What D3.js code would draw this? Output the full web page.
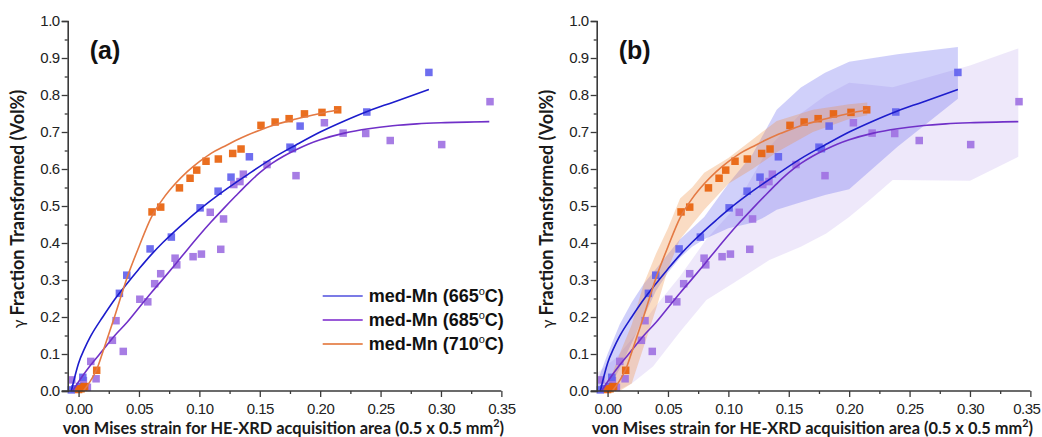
<!DOCTYPE html>
<html>
<head>
<meta charset="utf-8">
<script src="https://cdn.jsdelivr.net/npm/d3@7"></script>
<style>
  html, body { margin: 0; padding: 0; background: #fff; }
  svg { display: block; }
</style>
</head>
<body>
<svg id="chart" width="1042" height="437"></svg>
<script>
// ---- measured points: von Mises strain vs. transformed austenite fraction ----
const strain665 = [-0.006, -0.003, 0.001, 0.0035, 0.0338, 0.0399, 0.0592, 0.0768, 0.1006, 0.1155, 0.1262, 0.1414, 0.175, 0.177, 0.1834, 0.2386, 0.290];
const frac665   = [0.003, 0.006, 0.012, 0.037, 0.264, 0.313, 0.384, 0.416, 0.495, 0.540, 0.578, 0.633, 0.659, 0.655, 0.716, 0.754, 0.861];

const strain685 = [-0.0056, 0.004, 0.0073, 0.0101, 0.0145, 0.028, 0.031, 0.037, 0.0507, 0.0573, 0.063, 0.068, 0.0799, 0.0813, 0.0948, 0.1017, 0.109, 0.1177, 0.12, 0.1285, 0.1336, 0.1364, 0.156, 0.180, 0.2035, 0.219, 0.2377, 0.258, 0.3006, 0.3406];
const frac685   = [0.030, 0.028, 0.010, 0.080, 0.033, 0.137, 0.190, 0.107, 0.248, 0.241, 0.290, 0.317, 0.359, 0.341, 0.363, 0.370, 0.483, 0.383, 0.465, 0.558, 0.566, 0.586, 0.612, 0.582, 0.725, 0.697, 0.696, 0.677, 0.666, 0.782];

const strain710 = [0.000, 0.002, 0.004, 0.005, 0.015, 0.0608, 0.068, 0.0835, 0.0923, 0.0978, 0.1055, 0.1157, 0.1276, 0.1345, 0.151, 0.1627, 0.1743, 0.187, 0.2015, 0.2145];
const frac710   = [0.004, 0.006, 0.010, 0.012, 0.056, 0.484, 0.497, 0.549, 0.575, 0.597, 0.621, 0.627, 0.642, 0.654, 0.718, 0.727, 0.736, 0.749, 0.753, 0.760];

// ---- fitted kinetics curves ----
const fitX665 = [-0.006, -0.003, 0, 0.005, 0.01, 0.02, 0.03, 0.04, 0.05, 0.06, 0.07, 0.08, 0.09, 0.10, 0.12, 0.14, 0.16, 0.18, 0.20, 0.22, 0.24, 0.26, 0.29];
const fitY665 = [0, 0.04, 0.075, 0.115, 0.148, 0.20, 0.248, 0.29, 0.33, 0.368, 0.402, 0.433, 0.462, 0.49, 0.54, 0.585, 0.628, 0.665, 0.70, 0.73, 0.757, 0.78, 0.815];

const fitX685 = [-0.005, 0, 0.01, 0.02, 0.03, 0.04, 0.05, 0.06, 0.07, 0.08, 0.09, 0.10, 0.11, 0.12, 0.13, 0.14, 0.15, 0.16, 0.17, 0.18, 0.19, 0.20, 0.22, 0.24, 0.26, 0.28, 0.30, 0.34];
const fitY685 = [0, 0.025, 0.07, 0.11, 0.15, 0.185, 0.225, 0.265, 0.303, 0.342, 0.382, 0.421, 0.458, 0.493, 0.527, 0.56, 0.59, 0.615, 0.635, 0.652, 0.667, 0.679, 0.697, 0.709, 0.717, 0.722, 0.725, 0.728];

const fitX710 = [0.004, 0.01, 0.015, 0.02, 0.03, 0.04, 0.05, 0.06, 0.07, 0.08, 0.09, 0.10, 0.11, 0.12, 0.13, 0.14, 0.15, 0.16, 0.18, 0.20, 0.215];
const fitY710 = [0, 0.028, 0.058, 0.105, 0.203, 0.305, 0.39, 0.468, 0.52, 0.56, 0.593, 0.62, 0.643, 0.66, 0.677, 0.692, 0.705, 0.717, 0.735, 0.750, 0.760];

// ---- uncertainty envelopes (panel b) ----
const bandX665  = [-0.008, 0.0, 0.01, 0.02, 0.03, 0.04, 0.05, 0.06, 0.07, 0.08, 0.10, 0.12, 0.13, 0.14, 0.16, 0.18, 0.20, 0.24, 0.29];
const bandLo665 = [0.0, 0.0, 0.06, 0.13, 0.20, 0.27, 0.32, 0.36, 0.39, 0.41, 0.44, 0.455, 0.47, 0.49, 0.51, 0.53, 0.545, 0.66, 0.79];
const bandHi665 = [0.03, 0.10, 0.18, 0.24, 0.29, 0.33, 0.37, 0.41, 0.44, 0.47, 0.56, 0.64, 0.70, 0.76, 0.82, 0.86, 0.89, 0.91, 0.93];

const bandX685  = [-0.008, 0.007, 0.02, 0.0376, 0.06, 0.0818, 0.104, 0.134, 0.16, 0.181, 0.20, 0.217, 0.236, 0.30, 0.34];
const bandLo685 = [0.0, 0.0, 0.02, 0.066, 0.16, 0.246, 0.291, 0.354, 0.39, 0.426, 0.47, 0.516, 0.57, 0.568, 0.633];
const bandHi685 = [0.05, 0.09, 0.14, 0.22, 0.31, 0.41, 0.49, 0.66, 0.75, 0.80, 0.833, 0.828, 0.821, 0.88, 0.926];

const bandX710  = [0.002, 0.01, 0.02, 0.03, 0.04, 0.05, 0.06, 0.07, 0.08, 0.10, 0.12, 0.14, 0.17, 0.20, 0.215];
const bandLo710 = [0.0, 0.0, 0.02, 0.12, 0.22, 0.33, 0.41, 0.45, 0.49, 0.56, 0.60, 0.645, 0.70, 0.735, 0.745];
const bandHi710 = [0.03, 0.10, 0.18, 0.29, 0.37, 0.44, 0.52, 0.55, 0.59, 0.63, 0.68, 0.73, 0.76, 0.775, 0.78];

// ---- axis ticks and labels ----
const xTicks = [0, 0.05, 0.10, 0.15, 0.20, 0.25, 0.30, 0.35];
const xMinor = [0.025, 0.075, 0.125, 0.175, 0.225, 0.275, 0.325];
const yTicks = [0, 0.1, 0.2, 0.3, 0.4, 0.5, 0.6, 0.7, 0.8, 0.9, 1.0];
const yMinor = [0.05, 0.15, 0.25, 0.35, 0.45, 0.55, 0.65, 0.75, 0.85, 0.95];
const seriesNames = ["med-Mn (665", "med-Mn (685", "med-Mn (710"];
const panelLabels = ["(a)", "(b)"];

const series = [
  { name: seriesNames[0], xs: strain665, ys: frac665, fx: fitX665, fy: fitY665, bx: bandX665, blo: bandLo665, bhi: bandHi665,
    point: "#6262ee", line: "#1c1ccc", legend: "#7b7be6", band: "rgba(100,100,240,0.30)" },
  { name: seriesNames[1], xs: strain685, ys: frac685, fx: fitX685, fy: fitY685, bx: bandX685, blo: bandLo685, bhi: bandHi685,
    point: "#a072e2", line: "#7030c8", legend: "#9a5ad8", band: "rgba(160,130,230,0.18)" },
  { name: seriesNames[2], xs: strain710, ys: frac710, fx: fitX710, fy: fitY710, bx: bandX710, blo: bandLo710, bhi: bandHi710,
    point: "#e8620c", line: "#e47a44", legend: "#e89060", band: "rgba(240,140,60,0.30)" }
];

const svg = d3.select("#chart");
const tickFont = "'Liberation Sans', Arial, sans-serif";
const titleFont = "Lato, 'Open Sans', sans-serif";
const svgWidth = 1042;

function drawPanel(axisX, label, withBands, withLegend) {
  const g = svg.append("g");
  const x = d3.scaleLinear().domain([-0.009, 0.35]).range([axisX, axisX + 0.359 * 1208]);
  const y = d3.scaleLinear().domain([0, 1]).range([391, 21]);

  // envelopes
  if (withBands) {
    [1, 0, 2].forEach(i => {
      const s = series[i];
      const rows = s.bx.map((v, k) => ({ x: v, lo: s.blo[k], hi: s.bhi[k] }));
      g.append("path")
        .datum(rows)
        .attr("fill", s.band)
        .attr("d", d3.area().x(d => x(d.x)).y0(d => y(d.lo)).y1(d => y(d.hi)));
    });
  }

  // data squares
  const sz = 7.5;
  [1, 0, 2].forEach(i => {
    const s = series[i];
    const pts = s.xs.map((v, k) => ({ x: v, y: s.ys[k] }));
    g.append("g").selectAll("rect").data(pts).join("rect")
      .attr("x", d => x(d.x) - sz / 2)
      .attr("y", d => y(d.y) - sz / 2)
      .attr("width", sz).attr("height", sz)
      .attr("fill", s.point)
      .attr("fill-opacity", 0.92);
  });

  // fitted curves
  series.forEach(s => {
    const rows = s.fx.map((v, k) => ({ x: v, y: s.fy[k] }));
    g.append("path")
      .datum(rows)
      .attr("fill", "none")
      .attr("stroke", s.line)
      .attr("stroke-width", 1.6)
      .attr("d", d3.line().x(d => x(d.x)).y(d => y(d.y)).curve(d3.curveMonotoneX));
  });

  // axes
  const axisColor = "#3a3a3a";
  const yAx = g.append("g").attr("transform", `translate(${axisX},0)`)
    .call(d3.axisLeft(y).tickValues(yTicks).tickSize(6).tickPadding(2).tickFormat(d3.format(".1f")));
  const yMin = g.append("g").attr("transform", `translate(${axisX},0)`)
    .call(d3.axisLeft(y).tickValues(yMinor).tickSize(3).tickFormat(""));
  const xAx = g.append("g").attr("transform", `translate(0,391)`)
    .call(d3.axisBottom(x).tickValues(xTicks).tickSize(6).tickPadding(6).tickFormat(d3.format(".2f")));
  const xMin = g.append("g").attr("transform", `translate(0,391)`)
    .call(d3.axisBottom(x).tickValues(xMinor).tickSize(3).tickFormat(""));
  [yAx, yMin, xAx, xMin].forEach(a => {
    a.select(".domain").attr("stroke", axisColor).attr("stroke-width", 1.6);
    a.selectAll(".tick line").attr("stroke", axisColor).attr("stroke-width", 1.3);
    a.selectAll("text").attr("font-family", tickFont).attr("font-size", 15)
      .attr("letter-spacing", "-0.5px").attr("fill", "#222");
  });
  yMin.select(".domain").remove();
  xMin.select(".domain").remove();
  // x-axis line starts a little left of the y axis
  xAx.select(".domain").attr("d", `M${axisX - 6},0H${x(0.35)}`);
  // keep the last tick label inside the canvas
  xAx.selectAll(".tick text").each(function () {
    const b = this.getBBox();
    const tr = this.parentNode.transform.baseVal.consolidate();
    const right = (tr ? tr.matrix.e : 0) + b.x + b.width;
    if (right > svgWidth - 1) d3.select(this).attr("dx", -(right - svgWidth + 1.5));
  });

  // panel label
  g.append("text")
    .attr("x", axisX + 22).attr("y", 59)
    .attr("font-family", tickFont).attr("font-weight", "bold").attr("font-size", 25)
    .attr("fill", "#111")
    .text(label);

  // y title
  const yt = g.append("text")
    .attr("transform", `translate(${axisX - 44},209) rotate(-90)`)
    .attr("text-anchor", "middle")
    .attr("font-family", titleFont).attr("font-weight", "bold").attr("font-size", 18)
    .attr("fill", "#1a1a1a");
  yt.append("tspan").attr("font-weight", "normal").attr("font-size", 16).text("γ ");
  yt.append("tspan").text("Fraction Transformed (Vol%)");

  // x title, sized so it spans the panel width
  const xt = g.append("text")
    .attr("x", axisX - 5).attr("y", 434)
    .attr("font-family", titleFont).attr("font-weight", "bold").attr("font-size", 18)
    .attr("fill", "#1a1a1a");
  xt.append("tspan").text("von Mises strain for HE-XRD acquisition area (0.5 x 0.5 mm");
  const sup = xt.append("tspan").attr("dy", -7).attr("font-size", 12).text("2");
  xt.append("tspan").attr("dy", 7).text(")");
  const natural = xt.node().getComputedTextLength();
  const fs = 18 * 442 / natural;
  xt.attr("font-size", fs);
  sup.attr("font-size", fs * 0.66);

  // legend
  if (withLegend) {
    const lg = g.append("g");
    const rowsY = [296, 320, 344];
    series.forEach((s, i) => {
      lg.append("line")
        .attr("x1", axisX + 255).attr("x2", axisX + 295)
        .attr("y1", rowsY[i]).attr("y2", rowsY[i])
        .attr("stroke", s.legend).attr("stroke-width", 1.8);
      const t = lg.append("text")
        .attr("x", axisX + 301).attr("y", rowsY[i] + 6)
        .attr("font-family", tickFont).attr("font-weight", "bold").attr("font-size", 18)
        .attr("fill", "#111");
      t.append("tspan").text(s.name);
      t.append("tspan").attr("dy", -7).attr("font-size", 11).attr("font-weight", "normal").text("o");
      t.append("tspan").attr("dy", 7).text("C)");
    });
  }
}

drawPanel(67.7, panelLabels[0], false, true);
drawPanel(596.7, panelLabels[1], true, false);
</script>
</body>
</html>
